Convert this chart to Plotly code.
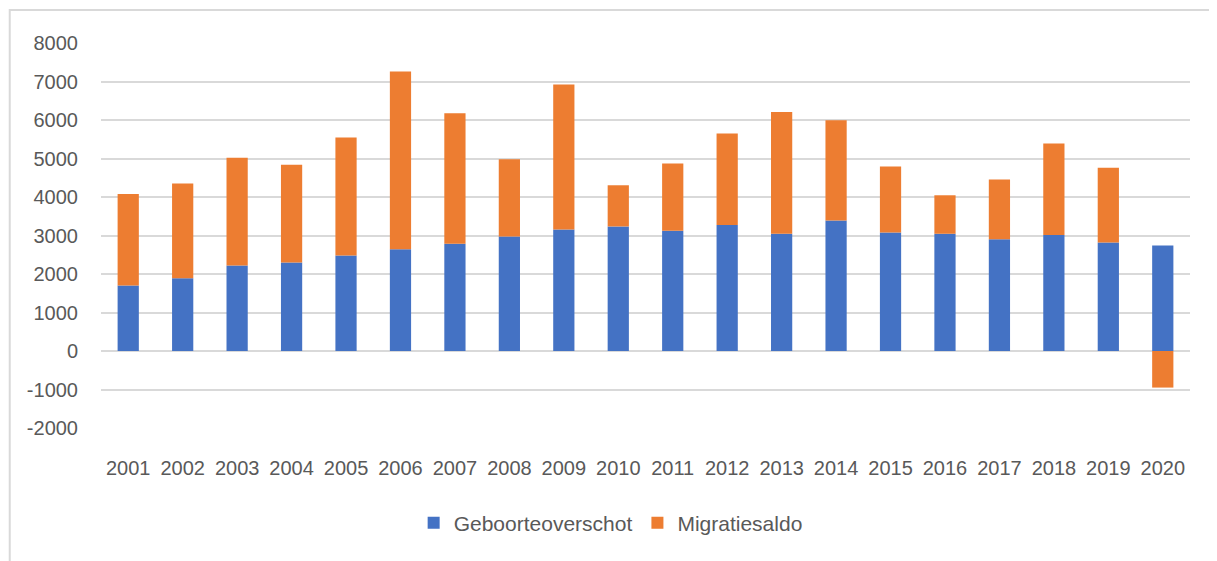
import plotly.graph_objects as go

years = ["2001", "2002", "2003", "2004", "2005", "2006", "2007", "2008", "2009", "2010",
         "2011", "2012", "2013", "2014", "2015", "2016", "2017", "2018", "2019", "2020"]
geboorteoverschot = [1700, 1890, 2220, 2300, 2480, 2640, 2785, 2975, 3155, 3235,
                     3125, 3270, 3045, 3390, 3080, 3045, 2900, 3010, 2820, 2740]
migratiesaldo = [2380, 2460, 2800, 2535, 3065, 4620, 3390, 2005, 3765, 1070,
                 1745, 2380, 3165, 2605, 1710, 1000, 1555, 2380, 1940, -950]
y_ticks = [-2000, -1000, 0, 1000, 2000, 3000, 4000, 5000, 6000, 7000, 8000]

font_family = "Liberation Sans, Arial, sans-serif"
text_color = "#595959"
grid_color = "#D9D9D9"

fig = go.Figure()
fig.add_trace(go.Bar(x=years, y=geboorteoverschot, name="Geboorteoverschot",
                     marker=dict(color="#4472C4", line=dict(width=0))))
fig.add_trace(go.Bar(x=years, y=migratiesaldo, name="Migratiesaldo",
                     marker=dict(color="#ED7D31", line=dict(width=0))))

fig.update_layout(
    barmode="relative",
    bargap=0.61,
    width=1209, height=553,
    margin=dict(l=93, r=27, t=35, b=133),
    paper_bgcolor="white", plot_bgcolor="white",
    font=dict(family=font_family, size=20, color=text_color),
    showlegend=True,
    legend=dict(orientation="h", x=0.468, xanchor="center", y=-0.247, yanchor="middle",
                font=dict(size=21, color=text_color), itemwidth=30, traceorder="normal"),
    shapes=[dict(type="rect", xref="paper", yref="paper", x0=-0.0838, x1=1.2, y0=-0.6, y1=1.0857,
                 line=dict(color=grid_color, width=2), fillcolor="rgba(0,0,0,0)", layer="below")],
)
fig.update_xaxes(
    type="category", showgrid=False, showline=False, zeroline=False,
    ticks="outside", ticklen=22, tickcolor="rgba(0,0,0,0)",
    tickfont=dict(size=20, color=text_color),
)
fig.update_yaxes(
    range=[-2000, 8000], tickvals=y_ticks, ticktext=[str(v) for v in y_ticks],
    showgrid=True, gridcolor=grid_color, gridwidth=2,
    zeroline=True, zerolinecolor=grid_color, zerolinewidth=2,
    showline=False, ticks="outside", ticklen=18, tickcolor="rgba(0,0,0,0)",
    tickfont=dict(size=20, color=text_color),
)

fig.write_html("out.html")
